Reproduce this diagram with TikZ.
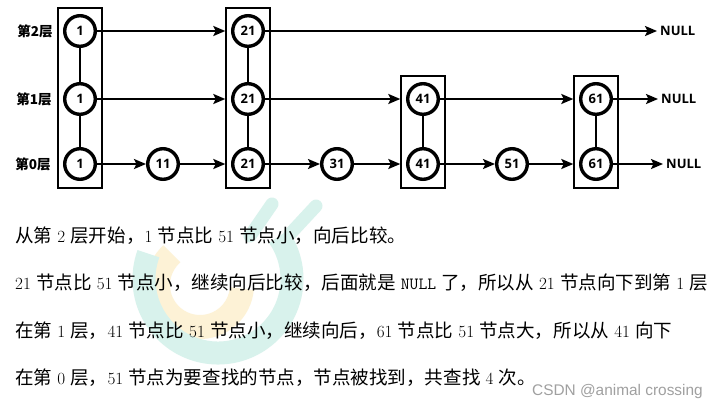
\documentclass[tikz,border=0pt]{standalone}
\usepackage{fontspec}
\usetikzlibrary{arrows.meta,fit}
\newfontfamily\cjk{Noto Sans CJK SC}[Scale=1.084]
\newfontfamily\nodefont{Open Sans}
\newfontfamily\csdnfont{Liberation Sans}
\newcommand\C[1]{{\cjk #1}}
\definecolor{mint}{RGB}{216,242,236}
\definecolor{wmyellow}{RGB}{253,242,214}
\definecolor{csdngray}{RGB}{160,160,160}
\begin{document}
\begin{tikzpicture}[x=1pt,y=-1pt,
  sn/.style={circle,draw,line width=3.4pt,minimum size=30.6pt,inner sep=0pt,fill=white,font=\nodefont\bfseries\fontsize{13pt}{15pt}\selectfont},
  lvl/.style={inner sep=0pt,font=\cjk\bfseries\fontsize{12.5pt}{14pt}\selectfont},
  nul/.style={anchor=west,inner sep=3pt,font=\nodefont\bfseries\fontsize{13pt}{15pt}\selectfont},
  towerbox/.style={draw,line width=2pt,inner xsep=4.7pt,inner ysep=6.5pt},
  arr/.style={line width=2.2pt,-{Stealth[length=12pt,width=10pt,inset=2.5pt]}},
  link/.style={line width=2.4pt},
  txt/.style={anchor=base west,inner sep=0pt,font=\fontsize{17.1pt}{20pt}\selectfont},
]
\fill[white] (0,0) rectangle (719,405);
\path[use as bounding box] (0,0) rectangle (719,405);

% watermark
\draw[wmyellow, line width=24pt] ([shift={(228:42)}]200,285) arc[start angle=228, end angle=5, radius=42];
\draw[mint, line width=23pt] ([shift={(200:74)}]218,279) arc[start angle=200, end angle=-35, radius=74];
\draw[mint, line width=13pt, line cap=round] (250,236) -- (272,204);
\draw[mint, line width=13pt, line cap=round] (290,234) -- (316,206);

% layer labels
\node[lvl] (L2) at (35,31) {第2层};
\node[lvl] (L1) at (34,99) {第1层};
\node[lvl] (L0) at (33,164) {第0层};

% nodes
\node[sn] (a2) at (80,31) {1};
\node[sn] (a1) at (80,99) {1};
\node[sn] (a0) at (80,164) {1};
\node[sn] (b0) at (163,164) {11};
\node[sn] (c2) at (248,31) {21};
\node[sn] (c1) at (248,99) {21};
\node[sn] (c0) at (248,164) {21};
\node[sn] (d0) at (337,164) {31};
\node[sn] (e1) at (423,99) {41};
\node[sn] (e0) at (423,164) {41};
\node[sn] (f0) at (512,164) {51};
\node[sn] (g1) at (596,99) {61};
\node[sn] (g0) at (596,164) {61};

% tower boxes
\node[towerbox, fit=(a2)(a0)] (A) {};
\node[towerbox, fit=(c2)(c0)] (Cb) {};
\node[towerbox, fit=(e1)(e0)] (E) {};
\node[towerbox, fit=(g1)(g0)] (G) {};

% NULL
\node[nul] (N2) at (657,31) {NULL};
\node[nul] (N1) at (658,99) {NULL};
\node[nul] (N0) at (663,164) {NULL};

% vertical links
\draw[link] (a2) -- (a1);
\draw[link] (a1) -- (a0);
\draw[link] (c2) -- (c1);
\draw[link] (c1) -- (c0);
\draw[link] (e1) -- (e0);
\draw[link] (g1) -- (g0);

% arrows
\draw[arr] (a2) -- (a2 -| Cb.west);
\draw[arr] (c2) -- (N2);
\draw[arr] (a1) -- (a1 -| Cb.west);
\draw[arr] (c1) -- (c1 -| E.west);
\draw[arr] (e1) -- (e1 -| G.west);
\draw[arr] (g1) -- (N1);
\draw[arr] (a0) -- (b0);
\draw[arr] (b0) -- (b0 -| Cb.west);
\draw[arr] (c0) -- (d0);
\draw[arr] (d0) -- (d0 -| E.west);
\draw[arr] (e0) -- (f0);
\draw[arr] (f0) -- (f0 -| G.west);
\draw[arr] (g0) -- (N0);

% text
\node[txt] (t1) at (15,242) {\C{从第} 2 \C{层开始，}1 \C{节点比} 51 \C{节点小，向后比较。}};
\node[txt] (t2) at (15,289) {21 \C{节点比} 51 \C{节点小，继续向后比较，后面就是} \texttt{NULL} \C{了，所以从} 21 \C{节点向下到第} 1 \C{层}};
\node[txt] (t3) at (15,337) {\C{在第} 1 \C{层，}41 \C{节点比} 51 \C{节点小，继续向后，}61 \C{节点比} 51 \C{节点大，所以从} 41 \C{向下}};
\node[txt] (t4) at (15,384) {\C{在第} 0 \C{层，}51 \C{节点为要查找的节点，节点被找到，共查找} 4 \C{次。}};
\node[anchor=base west, inner sep=0pt, text=csdngray, font=\csdnfont\fontsize{15.4pt}{18pt}\selectfont] (csdn) at (532,395) {CSDN @animal crossing};
\end{tikzpicture}
\end{document}
